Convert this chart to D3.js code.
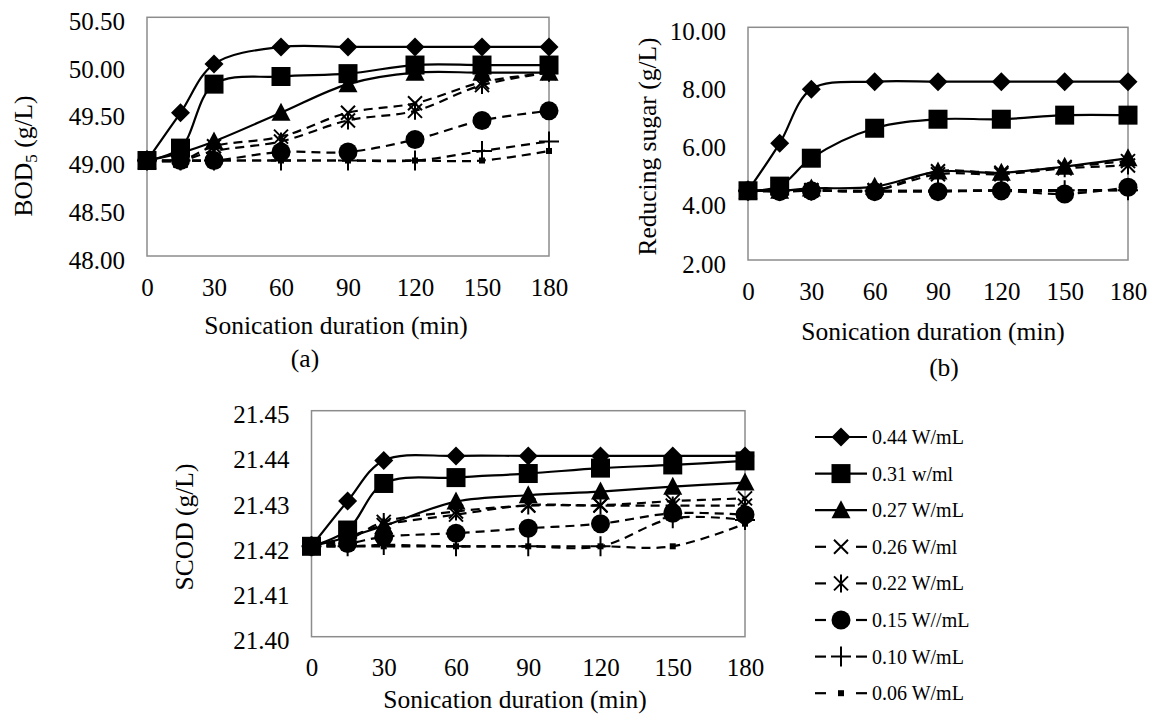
<!DOCTYPE html>
<html>
<head>
<meta charset="utf-8">
<script src="https://cdn.jsdelivr.net/npm/d3@7"></script>
<style>
  body { margin: 0; background: #fff; }
  svg { display: block; font-family: "Liberation Serif", "Times New Roman", serif; }
</style>
</head>
<body>
<div id="chart"></div>
<script>
// sonication time (min)
const durations = [0, 15, 30, 60, 90, 120, 150, 180];
const xTickValues = [0, 30, 60, 90, 120, 150, 180];
const seriesNames = ['0.44 W/mL', '0.31 w/ml', '0.27 W/mL', '0.26 W/ml', '0.22 W/mL', '0.15 W//mL', '0.10 W/mL', '0.06 W/mL'];

// (a) BOD5 (g/L)
const bodTicks = [48.0, 48.5, 49.0, 49.5, 50.0, 50.5];
const bod044 = [49.0, 49.50, 50.01, 50.19, 50.19, 50.19, 50.19, 50.19];
const bod031 = [49.0, 49.13, 49.80, 49.88, 49.91, 50.0, 50.0, 50.0];
const bod027 = [49.0, 49.08, 49.20, 49.50, 49.80, 49.92, 49.92, 49.92];
const bod026 = [49.0, 49.0, 49.15, 49.25, 49.50, 49.60, 49.82, 49.92];
const bod022 = [49.0, 49.0, 49.10, 49.20, 49.42, 49.52, 49.79, 49.92];
const bod015 = [49.0, 49.0, 49.0, 49.09, 49.09, 49.22, 49.42, 49.52];
const bod010 = [49.0, 49.0, 49.0, 49.0, 49.0, 49.0, 49.10, 49.20];
const bod006 = [49.0, 49.0, 49.0, 49.0, 49.0, 49.0, 49.0, 49.10];

// (b) reducing sugar (g/L)
const sugarTicks = [2, 4, 6, 8, 10];
const sugar044 = [4.38, 6.01, 7.87, 8.13, 8.13, 8.13, 8.13, 8.13];
const sugar031 = [4.38, 4.54, 5.50, 6.53, 6.84, 6.84, 6.98, 6.98];
const sugar027 = [4.38, 4.38, 4.46, 4.52, 5.04, 5.00, 5.21, 5.50];
const sugar026 = [4.38, 4.38, 4.40, 4.40, 5.05, 5.00, 5.20, 5.40];
const sugar022 = [4.38, 4.38, 4.40, 4.40, 4.95, 4.95, 5.15, 5.25];
const sugar015 = [4.38, 4.35, 4.38, 4.35, 4.35, 4.38, 4.27, 4.50];
const sugar010 = [4.38, 4.38, 4.38, 4.38, 4.38, 4.40, 4.40, 4.40];
const sugar006 = [4.38, 4.38, 4.38, 4.38, 4.38, 4.38, 4.38, 4.40];

// (c) SCOD (g/L)
const scodTicks = [21.40, 21.41, 21.42, 21.43, 21.44, 21.45];
const scod044 = [21.42, 21.430, 21.439, 21.440, 21.440, 21.440, 21.440, 21.440];
const scod031 = [21.42, 21.4236, 21.4339, 21.4352, 21.4361, 21.4373, 21.4380, 21.4389];
const scod027 = [21.42, 21.4220, 21.4245, 21.4299, 21.4313, 21.4321, 21.4332, 21.4341];
const scod026 = [21.42, 21.4220, 21.4247, 21.4270, 21.4291, 21.4291, 21.4300, 21.4306];
const scod022 = [21.42, 21.4215, 21.4254, 21.4277, 21.4290, 21.4290, 21.4290, 21.4290];
const scod015 = [21.42, 21.4206, 21.4221, 21.4229, 21.4240, 21.4250, 21.4273, 21.4270];
const scod010 = [21.42, 21.4200, 21.4203, 21.4200, 21.4200, 21.4200, 21.4262, 21.4258];
const scod006 = [21.42, 21.4200, 21.4200, 21.4200, 21.4200, 21.4200, 21.4200, 21.4250];

const W = 1154, H = 723;
const svg = d3.select('#chart').append('svg')
    .attr('width', W)
    .attr('height', H);

// marker shapes, drawn like the spreadsheet defaults
const markers = ['diamond', 'square', 'triangle', 'x', 'star', 'circle', 'plus', 'dot'];
const dashed = [false, false, false, true, true, true, true, true];

const drawMarker = (g, kind, cx, cy) => {
    const m = g.append('g').attr('transform', `translate(${cx},${cy})`);
    if (kind === 'diamond') {
        m.append('path').attr('d', 'M0,-9.5L9.5,0L0,9.5L-9.5,0Z').attr('fill', '#000');
    } else if (kind === 'square') {
        m.append('rect').attr('x', -9.5).attr('y', -9.5).attr('width', 19).attr('height', 19).attr('fill', '#000');
    } else if (kind === 'triangle') {
        m.append('path').attr('d', 'M0,-10L9.5,8L-9.5,8Z').attr('fill', '#000');
    } else if (kind === 'circle') {
        m.append('circle').attr('r', 9.5).attr('fill', '#000');
    } else if (kind === 'x') {
        m.append('path').attr('d', 'M-7,-7L7,7M7,-7L-7,7')
            .attr('stroke', '#000').attr('stroke-width', 2);
    } else if (kind === 'star') {
        m.append('path').attr('d', 'M-7,-7L7,7M7,-7L-7,7M0,-9L0,9')
            .attr('stroke', '#000').attr('stroke-width', 2);
    } else if (kind === 'plus') {
        m.append('path').attr('d', 'M-10,0L10,0M0,-10L0,10')
            .attr('stroke', '#000').attr('stroke-width', 2);
    } else if (kind === 'dot') {
        m.append('rect').attr('x', -3).attr('y', -3).attr('width', 6).attr('height', 6).attr('fill', '#000');
    }
};

const drawPanel = (p) => {
    const x = d3.scaleLinear().domain([0, 180]).range([p.left, p.right]);
    const y = d3.scaleLinear().domain(p.domain).range([p.bottom, p.top]);

    // plot frame
    svg.append('rect')
        .attr('x', p.left)
        .attr('y', p.top)
        .attr('width', p.right - p.left)
        .attr('height', p.bottom - p.top)
        .attr('fill', 'none')
        .attr('stroke', '#8c8c8c')
        .attr('stroke-width', 1.5);

    // y axis labels
    const yAxis = svg.append('g')
        .attr('transform', `translate(${p.left - 22},4)`)
        .call(d3.axisLeft(y).tickValues(p.ticks).tickFormat(p.format).tickSize(0).tickPadding(0));
    yAxis.select('.domain').remove();
    yAxis.selectAll('text')
        .attr('font-family', '"Liberation Serif", "Times New Roman", serif')
        .attr('font-size', 25)
        .attr('fill', '#000');

    // x axis labels
    const xAxis = svg.append('g')
        .attr('transform', `translate(0,${p.bottom + 22})`)
        .call(d3.axisBottom(x).tickValues(xTickValues).tickFormat(d3.format('d')).tickSize(0).tickPadding(0));
    xAxis.select('.domain').remove();
    xAxis.selectAll('text')
        .attr('font-family', '"Liberation Serif", "Times New Roman", serif')
        .attr('font-size', 25)
        .attr('fill', '#000');

    // lines
    const line = d3.line()
        .x((d, i) => x(durations[i]))
        .y((d) => y(d))
        .curve(d3.curveCatmullRom.alpha(0.5));

    p.series.forEach((values, s) => {
        svg.append('path')
            .datum(values)
            .attr('fill', 'none')
            .attr('stroke', '#000')
            .attr('stroke-width', 2.2)
            .attr('stroke-dasharray', dashed[s] ? '9,6' : null)
            .attr('d', line);
        const mg = svg.append('g');
        values.forEach((v, i) => drawMarker(mg, markers[s], x(durations[i]), y(v)));
    });

    // axis titles
    svg.append('text')
        .attr('x', p.xTitleX)
        .attr('y', p.xTitleY)
        .attr('text-anchor', 'middle')
        .attr('font-size', 25.5)
        .text('Sonication duration (min)');

    const yt = svg.append('text')
        .attr('transform', `translate(${p.yTitleX},${p.yTitleY}) rotate(-90)`)
        .attr('text-anchor', 'middle')
        .attr('font-size', 25.5);
    p.yTitle(yt);

    if (p.tag) {
        svg.append('text')
            .attr('x', p.tagX)
            .attr('y', p.tagY)
            .attr('text-anchor', 'middle')
            .attr('font-size', 25.5)
            .text(p.tag);
    }
};

drawPanel({
    left: 147, right: 549, top: 17.3, bottom: 256,
    domain: [48, 50.5], ticks: bodTicks, format: d3.format('.2f'),
    series: [bod044, bod031, bod027, bod026, bod022, bod015, bod010, bod006],
    xTitleX: 336, xTitleY: 334, tag: '(a)', tagX: 305, tagY: 367,
    yTitleX: 32, yTitleY: 156,
    yTitle: (t) => {
        t.append('tspan').text('BOD');
        t.append('tspan').attr('font-size', 17).attr('dy', 5).text('5');
        t.append('tspan').attr('dy', -5).text(' (g/L)');
    }
});

drawPanel({
    left: 748, right: 1128, top: 27.3, bottom: 260,
    domain: [2, 10], ticks: sugarTicks, format: d3.format('.2f'),
    series: [sugar044, sugar031, sugar027, sugar026, sugar022, sugar015, sugar010, sugar006],
    xTitleX: 933, xTitleY: 340, tag: '(b)', tagX: 944, tagY: 376,
    yTitleX: 656, yTitleY: 146.5,
    yTitle: (t) => t.text('Reducing sugar (g/L)')
});

drawPanel({
    left: 311.5, right: 745, top: 410.7, bottom: 636.7,
    domain: [21.40, 21.45], ticks: scodTicks, format: d3.format('.2f'),
    series: [scod044, scod031, scod027, scod026, scod022, scod015, scod010, scod006],
    xTitleX: 515, xTitleY: 708,
    yTitleX: 193, yTitleY: 527,
    yTitle: (t) => t.text('SCOD (g/L)')
});

// legend
const legend = svg.append('g');
seriesNames.forEach((name, s) => {
    const ly = 437 + s * 36.6;
    if (dashed[s]) {
        legend.append('line').attr('x1', 815).attr('x2', 826).attr('y1', ly).attr('y2', ly)
            .attr('stroke', '#000').attr('stroke-width', 2.2);
        legend.append('line').attr('x1', 856).attr('x2', 867).attr('y1', ly).attr('y2', ly)
            .attr('stroke', '#000').attr('stroke-width', 2.2);
    } else {
        legend.append('line').attr('x1', 815).attr('x2', 867).attr('y1', ly).attr('y2', ly)
            .attr('stroke', '#000').attr('stroke-width', 2.2);
    }
    drawMarker(legend, markers[s], 841, ly);
    legend.append('text')
        .attr('x', 872)
        .attr('y', ly + 7)
        .attr('font-size', 20)
        .text(name);
});
</script>
</body>
</html>
